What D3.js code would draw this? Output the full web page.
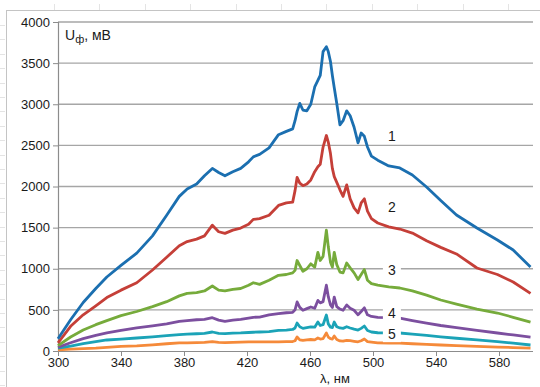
<!DOCTYPE html>
<html>
<head>
<meta charset="utf-8">
<script src="https://cdn.jsdelivr.net/npm/d3@7/dist/d3.min.js"></script>
<style>
  html, body { margin: 0; padding: 0; background: #fff; }
  svg { display: block; font-family: "Liberation Sans", Arial, sans-serif; }
</style>
</head>
<body>
<svg id="chart" width="540" height="387"></svg>
<script>
// Wavelength grid, nm
const wavelengths = [300, 308, 316, 324, 331, 340, 350, 360, 369, 377, 382, 388, 393, 398, 402, 406, 411, 416, 421, 424, 428, 434, 440, 445, 449, 450.5, 451.8, 453.5, 455.5, 458, 460.5, 463, 465, 466.5, 468.3, 470.4, 471.6, 473, 474.2, 475.4, 477, 479, 481, 483.3, 485.5, 488, 490.5, 492.5, 494.5, 496.5, 499, 503, 510, 517, 525, 534, 543, 553, 566, 579, 589, 600];

// Photo-signal U, mV, for each spectrum
const series1 = [150, 380, 590, 760, 900, 1040, 1190, 1400, 1650, 1880, 1970, 2030, 2130, 2220, 2170, 2130, 2180, 2220, 2300, 2360, 2390, 2470, 2630, 2670, 2700, 2800, 2910, 3010, 2930, 2920, 3000, 3210, 3290, 3350, 3640, 3700, 3640, 3520, 3350, 3200, 3010, 2750, 2800, 2920, 2860, 2720, 2530, 2650, 2610, 2480, 2370, 2320, 2250, 2225, 2140, 1994, 1830, 1653, 1495, 1350, 1228, 1020];
const series2 = [100, 300, 440, 550, 650, 740, 830, 985, 1140, 1280, 1330, 1360, 1400, 1530, 1450, 1430, 1470, 1495, 1540, 1600, 1610, 1650, 1770, 1800, 1810, 1950, 2110, 2040, 2010, 2030, 2080, 2180, 2240, 2270, 2480, 2620, 2540, 2400, 2220, 2120, 2050, 1960, 1880, 2020, 1850, 1740, 1680, 1800, 1850, 1700, 1610, 1556, 1510, 1483, 1434, 1340, 1260, 1180, 1009, 930, 839, 700];
const series3 = [65, 170, 255, 320, 370, 430, 480, 540, 600, 670, 700, 710, 730, 790, 740, 730, 750, 760, 800, 830, 810, 860, 920, 930, 950, 980, 1100, 1040, 970, 1000, 1060, 1020, 1200, 1100, 1150, 1470, 1270, 1080, 1020, 1200, 1050, 960, 950, 1070, 1010, 950, 870, 930, 990, 860, 820, 800, 780, 766, 730, 680, 620, 570, 510, 462, 410, 350];
const series4 = [45, 100, 150, 190, 219, 250, 280, 305, 330, 360, 370, 380, 385, 405, 375, 360, 375, 385, 400, 410, 413, 438, 455, 465, 470, 500, 596, 530, 495, 515, 535, 520, 615, 585, 600, 800, 660, 560, 530, 655, 540, 510, 495, 560, 520, 495, 440, 480, 525, 440, 420, 410, 405, 400, 370, 340, 310, 285, 250, 219, 195, 170];
const series5 = [35, 60, 90, 115, 134, 145, 158, 172, 188, 200, 205, 210, 215, 231, 215, 212, 218, 220, 225, 228, 231, 235, 250, 255, 262, 280, 340, 295, 275, 285, 292, 290, 352, 310, 320, 438, 330, 290, 285, 352, 295, 280, 275, 295, 280, 265, 255, 275, 304, 250, 231, 222, 220, 219, 205, 190, 172, 155, 135, 115, 95, 73];
const series6 = [15, 22, 28, 35, 45, 55, 62, 75, 88, 98, 100, 103, 105, 115, 105, 103, 105, 108, 110, 112, 112, 110, 112, 115, 115, 125, 170, 135, 128, 135, 140, 135, 158, 145, 150, 219, 170, 150, 145, 182, 140, 122, 120, 130, 125, 118, 112, 125, 146, 115, 109, 100, 97, 95, 88, 80, 73, 65, 55, 48, 42, 36];

const seriesColors = ["#1b6fb0", "#c53f38", "#76ab3b", "#7c4f9f", "#1ba3b7", "#f58a3a"];
const curveLabels = ["1", "2", "3", "4", "5"];
const labelValues = [2620, 1750, 990, 460, 205];   // vertical placement of curve numbers, mV
const labelWavelength = 512;

const xTicks = [300, 340, 380, 420, 460, 500, 540, 580];
const yTicks = [0, 500, 1000, 1500, 2000, 2500, 3000, 3500, 4000];

const svg = d3.select("#chart");
const plotLeft = 58, plotTop = 22, plotBottom = 351, gridRight = 533;

const x = d3.scaleLinear().domain([300, 600]).range([plotLeft, 530.5]);
const y = d3.scaleLinear().domain([0, 4000]).range([plotBottom, plotTop]);

// outer chart frame
svg.append("rect")
  .attr("x", 6.5).attr("y", 10.5)
  .attr("width", 560).attr("height", 400)
  .attr("fill", "none").attr("stroke", "#c4c4c4").attr("stroke-width", 1);

// faint ruler marks along the frame
const rulerY = d3.range(25, 387, 14.4);
svg.append("g").selectAll("line").data(rulerY).join("line")
  .attr("x1", 0).attr("x2", 5)
  .attr("y1", d => Math.round(d) + 0.5).attr("y2", d => Math.round(d) + 0.5)
  .attr("stroke", "#e4e4e4");
const rulerX = d3.range(54, 540, 45.4);
svg.append("g").selectAll("line").data(rulerX).join("line")
  .attr("x1", d => Math.round(d) + 0.5).attr("x2", d => Math.round(d) + 0.5)
  .attr("y1", 4).attr("y2", 10)
  .attr("stroke", "#e4e4e4");

// horizontal gridlines
svg.append("g").selectAll("line").data(yTicks.filter(v => v > 0)).join("line")
  .attr("x1", plotLeft).attr("x2", gridRight)
  .attr("y1", d => y(d)).attr("y2", d => y(d))
  .attr("stroke", "#a6a6a6").attr("stroke-width", 1.4);

// y axis
const yAxis = svg.append("g")
  .attr("transform", `translate(${plotLeft},0)`)
  .call(d3.axisLeft(y).tickValues(yTicks).tickSize(5).tickPadding(3).tickFormat(d3.format("d")));
yAxis.select(".domain").attr("stroke", "#8c8c8c").attr("stroke-width", 1.2);
yAxis.selectAll(".tick line").attr("stroke", "#8c8c8c");
yAxis.selectAll("text").attr("font-size", 13).attr("fill", "#1a1a1a")
  .attr("font-family", "Liberation Sans, Arial, sans-serif");

// x axis
const xAxis = svg.append("g")
  .attr("transform", `translate(0,${plotBottom})`)
  .call(d3.axisBottom(x).tickValues(xTicks).tickSize(5).tickSizeOuter(0).tickPadding(2).tickFormat(d3.format("d")));
xAxis.select(".domain").attr("d", `M${plotLeft},0.5H${gridRight}`).attr("stroke", "#8c8c8c").attr("stroke-width", 1.2);
xAxis.selectAll(".tick line").attr("stroke", "#8c8c8c");
xAxis.selectAll("text").attr("font-size", 13).attr("fill", "#1a1a1a")
  .attr("font-family", "Liberation Sans, Arial, sans-serif");

// spectra
const allSeries = [series6, series5, series4, series3, series2, series1];
const colorsDrawn = [seriesColors[5], seriesColors[4], seriesColors[3], seriesColors[2], seriesColors[1], seriesColors[0]];
const line = d3.line().x((d, i) => x(wavelengths[i])).y(d => y(d));
svg.append("g").selectAll("path").data(allSeries).join("path")
  .attr("d", d => line(d))
  .attr("fill", "none")
  .attr("stroke", (d, i) => colorsDrawn[i])
  .attr("stroke-width", 2.8)
  .attr("stroke-linejoin", "round");

// curve numbers on white backing
const lab = svg.append("g").selectAll("g").data(curveLabels).join("g")
  .attr("transform", (d, i) => `translate(${x(labelWavelength)},${y(labelValues[i])})`);
lab.filter((d, i) => i >= 2).append("rect")
  .attr("x", -9).attr("y", -9).attr("width", 18).attr("height", 17)
  .attr("fill", "#fff");
lab.append("text")
  .attr("text-anchor", "middle").attr("dy", "0.36em")
  .attr("font-size", 14).attr("fill", "#1a1a1a")
  .text(d => d);

// axis titles
const yTitle = svg.append("text").attr("x", 65).attr("y", 40)
  .attr("font-size", 14).attr("fill", "#1a1a1a");
yTitle.append("tspan").text("U");
yTitle.append("tspan").attr("dy", 3).attr("font-size", 11).text("ф");
yTitle.append("tspan").attr("dy", -3).text(", мВ");

svg.append("text").attr("x", 335).attr("y", 383)
  .attr("text-anchor", "middle").attr("font-size", 13).attr("fill", "#1a1a1a")
  .text("λ, нм");
</script>
</body>
</html>
